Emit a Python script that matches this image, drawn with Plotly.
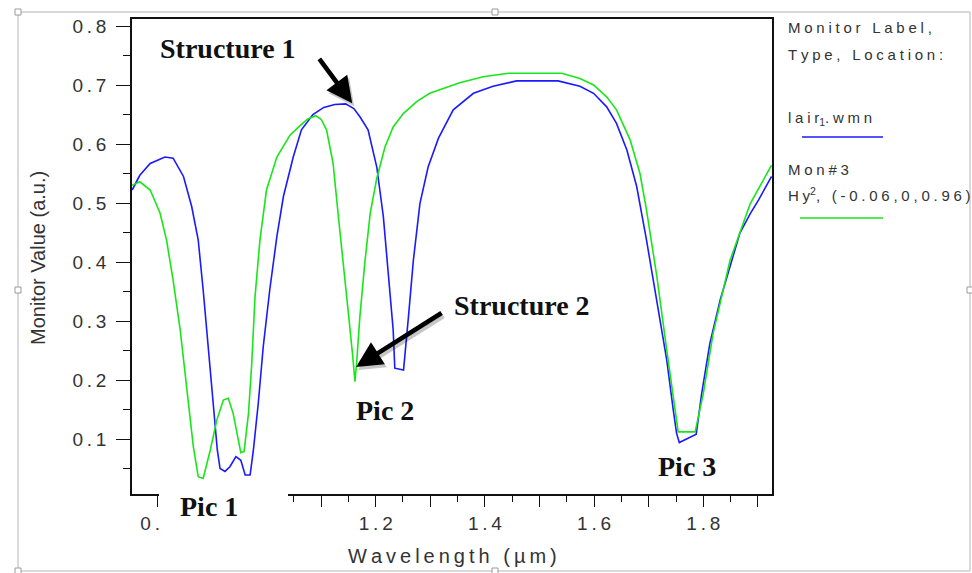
import plotly.graph_objects as go

# Monitor spectra: wavelength (um) vs monitor value (a.u.)
wl_lair = [0.754, 0.768, 0.787, 0.814, 0.829, 0.848, 0.863, 0.875, 0.884, 0.893,
           0.903, 0.910, 0.915, 0.924, 0.933, 0.944, 0.953, 0.961, 0.970, 0.976,
           0.985, 0.994, 1.006, 1.019, 1.031, 1.049, 1.064, 1.085, 1.105, 1.125,
           1.145, 1.160, 1.172, 1.186, 1.202, 1.214, 1.223, 1.232, 1.235, 1.251,
           1.260, 1.269, 1.281, 1.296, 1.315, 1.342, 1.379, 1.415, 1.458, 1.534,
           1.574, 1.599, 1.623, 1.641, 1.660, 1.678, 1.696, 1.715, 1.733, 1.745,
           1.751, 1.756, 1.787, 1.797, 1.812, 1.831, 1.849, 1.867, 1.886, 1.901,
           1.925]
val_lair = [0.522, 0.547, 0.567, 0.578, 0.576, 0.545, 0.494, 0.437, 0.353, 0.256,
            0.143, 0.081, 0.050, 0.045, 0.053, 0.070, 0.064, 0.039, 0.039, 0.081,
            0.161, 0.256, 0.353, 0.443, 0.511, 0.578, 0.624, 0.650, 0.662, 0.667,
            0.668, 0.660, 0.645, 0.624, 0.561, 0.477, 0.381, 0.285, 0.220, 0.217,
            0.307, 0.403, 0.499, 0.561, 0.610, 0.658, 0.686, 0.698, 0.707, 0.707,
            0.698, 0.686, 0.663, 0.635, 0.590, 0.528, 0.437, 0.336, 0.234, 0.149,
            0.110, 0.094, 0.108, 0.177, 0.262, 0.336, 0.392, 0.449, 0.482, 0.505,
            0.545]

wl_mon3 = [0.754, 0.768, 0.787, 0.805, 0.817, 0.829, 0.842, 0.854, 0.866, 0.875,
           0.884, 0.897, 0.909, 0.921, 0.930, 0.939, 0.948, 0.953, 0.959, 0.967,
           0.973, 0.979, 0.988, 1.000, 1.019, 1.043, 1.060, 1.075, 1.090, 1.100,
           1.110, 1.122, 1.131, 1.141, 1.150, 1.158, 1.162, 1.165, 1.171, 1.180,
           1.190, 1.202, 1.217, 1.232, 1.251, 1.275, 1.299, 1.354, 1.397, 1.443,
           1.541, 1.574, 1.599, 1.623, 1.641, 1.666, 1.684, 1.696, 1.715, 1.733,
           1.745, 1.754, 1.785, 1.800, 1.818, 1.849, 1.886, 1.925]
val_mon3 = [0.530, 0.536, 0.522, 0.483, 0.437, 0.369, 0.285, 0.183, 0.087, 0.036,
            0.033, 0.081, 0.132, 0.166, 0.169, 0.143, 0.098, 0.077, 0.079, 0.143,
            0.228, 0.341, 0.437, 0.522, 0.578, 0.615, 0.630, 0.642, 0.648, 0.642,
            0.624, 0.567, 0.483, 0.398, 0.313, 0.240, 0.197, 0.228, 0.307, 0.398,
            0.483, 0.542, 0.595, 0.629, 0.652, 0.672, 0.686, 0.704, 0.714, 0.720,
            0.720, 0.711, 0.700, 0.680, 0.658, 0.607, 0.550, 0.488, 0.375, 0.251,
            0.166, 0.112, 0.112, 0.177, 0.279, 0.403, 0.499, 0.564]

x_ticks = [0.8, 0.9, 1.0, 1.1, 1.2, 1.3, 1.4, 1.5, 1.6, 1.7, 1.8, 1.9]
x_labels = ["0.8", "", "1.0", "", "1.2", "", "1.4", "", "1.6", "", "1.8", ""]
y_ticks = [0.1, 0.2, 0.3, 0.4, 0.5, 0.6, 0.7, 0.8]
y_labels = ["0.1", "0.2", "0.3", "0.4", "0.5", "0.6", "0.7", "0.8"]

BLUE = "#1a1aff"
GREEN = "#19e619"
SANS = "Liberation Sans, Arial, sans-serif"
SERIF = "Liberation Serif, Times New Roman, serif"

W, H = 972, 573
ML, MR, MT, MB = 132, 200, 19, 79
PW, PH = W - ML - MR, H - MT - MB


def px(x):
    return (x - ML) / PW


def py(y):
    return 1 - (y - MT) / PH


def spaced(s, gap="\u2009"):
    # wide tracking, as in the original monitor-plot export
    return gap.join(s)


def legend_text(s):
    return spaced(s, "\u2005")


fig = go.Figure()
fig.add_trace(go.Scatter(x=wl_lair, y=val_lair, mode="lines",
                         line=dict(color=BLUE, width=1.6), showlegend=False))
fig.add_trace(go.Scatter(x=wl_mon3, y=val_mon3, mode="lines",
                         line=dict(color=GREEN, width=1.6), showlegend=False))

axis_common = dict(showline=True, mirror=True, linecolor="#111", linewidth=1.5,
                   showgrid=False, zeroline=False, ticks="outside",
                   tickcolor="#111", tickwidth=1.2,
                   tickfont=dict(family=SANS, size=19, color="#333"))
fig.update_xaxes(range=[0.7537, 1.9258], tickmode="array", tickvals=x_ticks,
                 ticktext=[spaced(t) for t in x_labels], ticklen=11,
                 minor=dict(tickmode="linear", tick0=0, dtick=0.05, ticks="outside",
                            ticklen=6, tickcolor="#111", tickwidth=1.2),
                 **axis_common)
fig.update_yaxes(range=[0.00678, 0.8119], tickmode="array", tickvals=y_ticks,
                 ticktext=[spaced(t) for t in y_labels], ticklen=14,
                 ticklabelstandoff=6,
                 minor=dict(tickmode="linear", tick0=0, dtick=0.05, ticks="outside",
                            ticklen=7, tickcolor="#111", tickwidth=1.2),
                 **axis_common)

shapes = []
# outer frame of the figure box with its handles
shapes.append(dict(type="rect", xref="paper", yref="paper", x0=px(18), x1=px(970),
                   y0=py(571), y1=py(12), line=dict(color="#b4b4b4", width=1),
                   layer="above"))
for hx, hy in [(18, 12), (495, 12), (18, 290), (18, 571), (495, 571), (970, 290)]:
    shapes.append(dict(type="rect", xref="paper", yref="paper",
                       x0=px(hx - 3), x1=px(hx + 3), y0=py(hy + 3), y1=py(hy - 3),
                       fillcolor="white", line=dict(color="#9a9a9a", width=1),
                       layer="above"))
# white label box under "Pic 1" sitting over the bottom axis
shapes.append(dict(type="rect", xref="paper", yref="paper", x0=px(159), x1=px(288),
                   y0=py(532), y1=py(492), fillcolor="white",
                   line=dict(width=0), layer="above"))
# legend sample lines
shapes.append(dict(type="line", xref="paper", yref="paper", x0=px(802), x1=px(883),
                   y0=py(137), y1=py(137), line=dict(color=BLUE, width=1.5)))
shapes.append(dict(type="line", xref="paper", yref="paper", x0=px(800), x1=px(883),
                   y0=py(218), y1=py(218), line=dict(color=GREEN, width=1.5)))

ann = []
# axis titles
ann.append(dict(text="Monitor Value (a.u.)", xref="paper", yref="paper",
                x=px(38), y=py(258), xanchor="center", yanchor="middle",
                textangle=-90, showarrow=False,
                font=dict(family=SANS, size=20, color="#333")))
ann.append(dict(text=spaced("Wavelength (\u00b5m)"), xref="paper", yref="paper",
                x=px(452), y=py(556), xanchor="center", yanchor="middle",
                showarrow=False, font=dict(family=SANS, size=20, color="#333")))

# legend text block
leg_font = dict(family=SANS, size=15, color="#333")
for txt, yy in [(legend_text("Monitor Label,"), 28),
                (legend_text("Type, Location:"), 55),
                (legend_text("lair") + "<sub>1</sub>" + legend_text(".wmn"), 118),
                (legend_text("Mon#3"), 170),
                (legend_text("Hy") + "<sup>2</sup>" + legend_text(", (-0.06,0,0.96)"), 194)]:
    ann.append(dict(text=txt, xref="paper", yref="paper", x=px(786), y=py(yy),
                    xanchor="left", yanchor="middle", showarrow=False, font=leg_font))

# callout labels
lab_font = dict(family=SERIF, size=28, color="#111", weight="bold")
for txt, cx, cy in [("Structure 1", 228, 49), ("Structure 2", 522, 305),
                    ("Pic 2", 385, 410), ("Pic 3", 687, 466), ("Pic 1", 209, 507)]:
    ann.append(dict(text=txt, xref="paper", yref="paper", x=px(cx), y=py(cy),
                    xanchor="center", yanchor="middle", showarrow=False,
                    font=lab_font))

# arrows (soft shadow first, then the black arrow)
for tip, tail in [((1.157, 0.669), (-34, -46)), ((1.164, 0.222), (87, -55))]:
    for col, sx, sy in [("rgba(0,0,0,0.22)", 2, -3), ("#000", 0, 0)]:
        ann.append(dict(x=tip[0], y=tip[1], xref="x", yref="y", ax=tail[0], ay=tail[1],
                        text="", showarrow=True, arrowhead=2, arrowsize=1.15,
                        arrowwidth=4.5, arrowcolor=col, xshift=sx, yshift=sy,
                        standoff=0))

fig.update_layout(width=W, height=H, margin=dict(l=ML, r=MR, t=MT, b=MB),
                  paper_bgcolor="white", plot_bgcolor="white",
                  shapes=shapes, annotations=ann, showlegend=False)

fig.write_html("out.html")
